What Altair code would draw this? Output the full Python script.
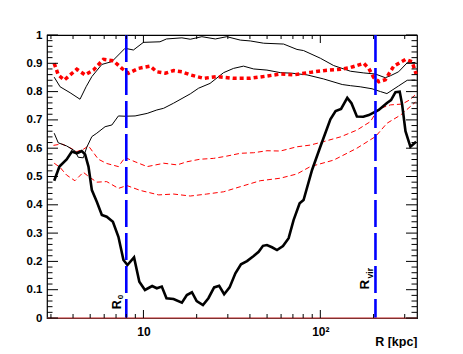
import altair as alt
import pandas as pd

# ---------------- data ----------------
# thin black, upper
A_R = [3.13, 3.38, 3.85, 4.38, 4.74, 5.11, 5.82, 6.63, 7.87, 8.78, 10.0, 12.4, 13.5, 16.5, 18.4,
       21.4, 25.5, 29.6, 35.3, 40.2, 47.8, 62, 73.8, 80.4, 100, 119, 148, 176, 205, 233, 249,
       277, 310, 345]
A_v = [0.851, 0.817, 0.796, 0.773, 0.817, 0.853, 0.896, 0.906, 0.953, 0.947, 0.974, 0.976, 0.986,
       0.990, 0.985, 0.994, 0.986, 0.994, 0.982, 0.979, 0.971, 0.968, 0.949, 0.945, 0.918, 0.892,
       0.872, 0.866, 0.862, 0.849, 0.856, 0.870, 0.902, 0.903]

# thin black, lower
B_R = [3.13, 3.30, 3.68, 4.10, 4.28, 4.57, 4.78, 5.11, 5.45, 6.07, 6.63, 7.22, 7.87, 8.97, 10.5,
       11.9, 13.0, 14.8, 18.4, 20.5, 23.8, 28.4, 32.3, 36.8, 42, 49.9, 59.4, 69.2, 84.1, 104,
       133, 148, 168, 196, 219, 238, 277, 310, 345]
B_v = [0.653, 0.619, 0.608, 0.590, 0.568, 0.566, 0.603, 0.641, 0.653, 0.676, 0.682, 0.714, 0.713,
       0.714, 0.723, 0.735, 0.741, 0.759, 0.792, 0.812, 0.829, 0.867, 0.882, 0.890, 0.880, 0.876,
       0.867, 0.865, 0.859, 0.845, 0.825, 0.821, 0.817, 0.810, 0.800, 0.793, 0.820, 0.840, 0.841]

# thick red dotted
C_R = [3.13, 3.30, 3.57, 4.20, 4.68, 5.21, 5.94, 6.77, 7.55, 8.23, 9.37, 10.9, 11.9, 13.3, 14.8,
       16.5, 18.4, 21.9, 26, 32.3, 40.2, 49.9, 59.4, 70.6, 87.8, 104, 130, 148, 176, 188, 200,
       214, 233, 260, 303, 330, 348]
C_v = [0.900, 0.859, 0.841, 0.879, 0.859, 0.876, 0.914, 0.909, 0.882, 0.865, 0.882, 0.890, 0.870,
       0.865, 0.874, 0.870, 0.859, 0.847, 0.853, 0.847, 0.847, 0.855, 0.862, 0.859, 0.868, 0.874,
       0.879, 0.885, 0.900, 0.882, 0.850, 0.835, 0.842, 0.890, 0.914, 0.906, 0.862]

# thin red dashed, upper
D_R = [3.10, 3.45, 3.76, 4.20, 4.57, 4.89, 5.56, 6.2, 7.22, 7.87, 8.97, 10.5, 12.4, 13.0, 15.5,
       17.6, 20.9, 24.9, 29.6, 35.3, 42, 49.9, 59.4, 73.8, 87.8, 104, 130, 161, 192, 205, 219,
       249, 290, 323, 348]
D_v = [0.610, 0.615, 0.605, 0.588, 0.596, 0.608, 0.561, 0.546, 0.535, 0.567, 0.552, 0.535, 0.544,
       0.547, 0.541, 0.552, 0.561, 0.564, 0.572, 0.582, 0.584, 0.591, 0.590, 0.605, 0.611, 0.623,
       0.640, 0.664, 0.694, 0.723, 0.741, 0.753, 0.756, 0.772, 0.792]

# thin red dashed, lower
E_R = [3.13, 3.38, 3.68, 4.10, 4.57, 4.90, 5.45, 6.2, 7.22, 8.06, 9.57, 12.2, 14.8, 18.4, 22.8,
       28.4, 35.3, 45.7, 59.4, 73.8, 87.8, 119, 161, 205, 238, 284, 345]
E_v = [0.547, 0.532, 0.505, 0.485, 0.515, 0.500, 0.480, 0.482, 0.458, 0.468, 0.451, 0.435, 0.438,
       0.431, 0.438, 0.446, 0.464, 0.485, 0.494, 0.509, 0.535, 0.558, 0.600, 0.641, 0.688, 0.717,
       0.763]

# thick black
F_R = [3.13, 3.35, 3.68, 3.94, 4.20, 4.48, 4.68, 4.89, 5.11, 5.45, 5.82, 6.2, 6.72, 7.22, 7.71,
       8.12, 8.85, 9.48, 10.2, 11.2, 11.9, 12.7, 13.5, 14.8, 16.5, 17.6, 18.8, 20.0, 21.7, 23.3,
       25.1, 26.8, 28.6, 30.7, 33.1, 35.6, 38.5, 42, 44.8, 47.4, 49.9, 53.3, 56.9, 61.5, 66.2,
       70.6, 76.4, 80.4, 89.8, 100, 114, 122, 131, 142, 150, 161, 175, 188, 214, 238, 251, 266,
       281, 290, 303, 323, 348]
F_v = [0.485, 0.535, 0.560, 0.588, 0.582, 0.590, 0.578, 0.535, 0.452, 0.411, 0.364, 0.358, 0.340,
       0.287, 0.205, 0.187, 0.214, 0.128, 0.099, 0.113, 0.105, 0.111, 0.070, 0.067, 0.054, 0.081,
       0.091, 0.060, 0.046, 0.070, 0.108, 0.114, 0.084, 0.108, 0.158, 0.190, 0.201, 0.219, 0.234,
       0.255, 0.258, 0.250, 0.240, 0.254, 0.282, 0.346, 0.405, 0.417, 0.523, 0.605, 0.702, 0.731,
       0.739, 0.778, 0.759, 0.712, 0.711, 0.717, 0.735, 0.760, 0.770, 0.798, 0.800, 0.755, 0.660,
       0.605, 0.623]

# reference radii
REF_R = [8, 205]
REF_LBL = ["R", "R"]
REF_SUB = ["0", "vir"]
REF_LBL_V = [0.031, 0.101]

# axis ticks
X_MAJOR = [10, 100]
X_MINOR = [3, 4, 5, 6, 7, 8, 9, 20, 30, 40, 50, 60, 70, 80, 90, 200, 300]
Y_MAJOR = [0.0, 0.1, 0.2, 0.3, 0.4, 0.5, 0.6, 0.7, 0.8, 0.9, 1.0]
Y_MINOR = [round(0.02 * i, 2) for i in range(1, 50) if i % 5 != 0]

# ---------------- chart ----------------
W, H = 370, 283
FONT = "Liberation Sans"
xs = alt.Scale(type="log", domain=[2.85, 352], nice=False)
ys = alt.Scale(domain=[0, 1], nice=False, zero=False)

x_axis = alt.Axis(values=X_MAJOR, labelExpr="datum.value == 10 ? '10' : '10\u00b2'",
                  ticks=False, domain=False, grid=False, labelFlush=False,
                  labelFont=FONT, labelFontWeight="bold", labelFontSize=12, labelColor="black",
                  labelPadding=8,
                  title="R [kpc]", titleFont=FONT, titleFontWeight="bold", titleFontSize=12.5,
                  titleColor="black", titleX=W, titleY=27, titleAlign="right",
                  titleBaseline="alphabetic", titleAnchor="end")
y_axis = alt.Axis(values=Y_MAJOR, format="~g", ticks=False, domain=False, grid=False,
                  labelFlush=False, labelFont=FONT, labelFontWeight="bold", labelFontSize=11.5,
                  labelColor="black", labelPadding=5, title=None)


def X(field):
    return alt.X(field, scale=xs, axis=x_axis)


def Y(field):
    return alt.Y(field, scale=ys, axis=y_axis)


def line(R, v, **kw):
    d = pd.DataFrame({"R": R, "v": v, "i": list(range(len(R)))})
    return alt.Chart(d).mark_line(**kw).encode(x=X("R:Q"), y=Y("v:Q"), order="i:Q")


ref_df = pd.DataFrame({"R": REF_R, "lbl": REF_LBL, "sub": REF_SUB, "v": REF_LBL_V,
                       "k": [0, 1]})

ref_lines = alt.Chart(ref_df).mark_rule(color="#0000ff", strokeWidth=2.6, strokeDash=[27, 6]).encode(
    x=X("R:Q"), y=alt.value(0), y2=alt.value(H),
)


def yticks(vals, x0, x1):
    return alt.Chart(pd.DataFrame({"t": vals})).mark_rule(color="black", strokeWidth=1).encode(
        y=Y("t:Q"), x=alt.value(x0), x2=alt.value(x1))


def xticks(vals, y0, y1):
    return alt.Chart(pd.DataFrame({"t": vals})).mark_rule(color="black", strokeWidth=1).encode(
        x=X("t:Q"), y=alt.value(y0), y2=alt.value(y1))


ticks = [
    yticks(Y_MAJOR, 0, 11), yticks(Y_MINOR, 0, 5.5),
    yticks(Y_MAJOR, W, W - 11), yticks(Y_MINOR, W, W - 5.5),
    xticks(X_MAJOR, H, H - 8), xticks(X_MINOR, H, H - 4),
    xticks(X_MAJOR, 0, 8), xticks(X_MINOR, 0, 4),
]

zero_line = alt.Chart(pd.DataFrame({"z": [0]})).mark_rule(color="#ff6060", strokeWidth=1).encode(
    y=Y("z:Q"), x=alt.value(0), x2=alt.value(W))

curves = [
    line(D_R, D_v, color="#ff0000", strokeWidth=1, strokeDash=[5, 3]),
    line(E_R, E_v, color="#ff0000", strokeWidth=1, strokeDash=[5, 3]),
    line(A_R, A_v, color="black", strokeWidth=1),
    line(B_R, B_v, color="black", strokeWidth=1),
    line(C_R, C_v, color="#ff0000", strokeWidth=3.5, strokeDash=[4, 3]),
    line(F_R, F_v, color="black", strokeWidth=2.6),
]


def label(k, field, size, dx, dy):
    return alt.Chart(ref_df).transform_filter(alt.datum.k == k).mark_text(
        angle=270, align="left", baseline="alphabetic", font=FONT, fontWeight="bold",
        fontSize=size, dx=dx, dy=dy, color="black").encode(
        x=X("R:Q"), y=Y("v:Q"), text=f"{field}:N")


labels = [
    label(0, "lbl", 12.5, 0, -5.5), label(0, "sub", 8, 10, -3),
    label(1, "lbl", 13.5, 0, -6.5), label(1, "sub", 8.5, 11, -2.5),
]

chart = alt.layer(
    *curves, ref_lines, zero_line, *ticks, *labels
).properties(
    width=W, height=H,
    autosize=alt.AutoSizeParams(type="none"),
    padding={"left": 39, "top": 27, "right": 30, "bottom": 30},
    background="white",
).configure_view(stroke="black", strokeWidth=1.2)

chart.save("out.html", embed_options={"renderer": "svg", "actions": False})
